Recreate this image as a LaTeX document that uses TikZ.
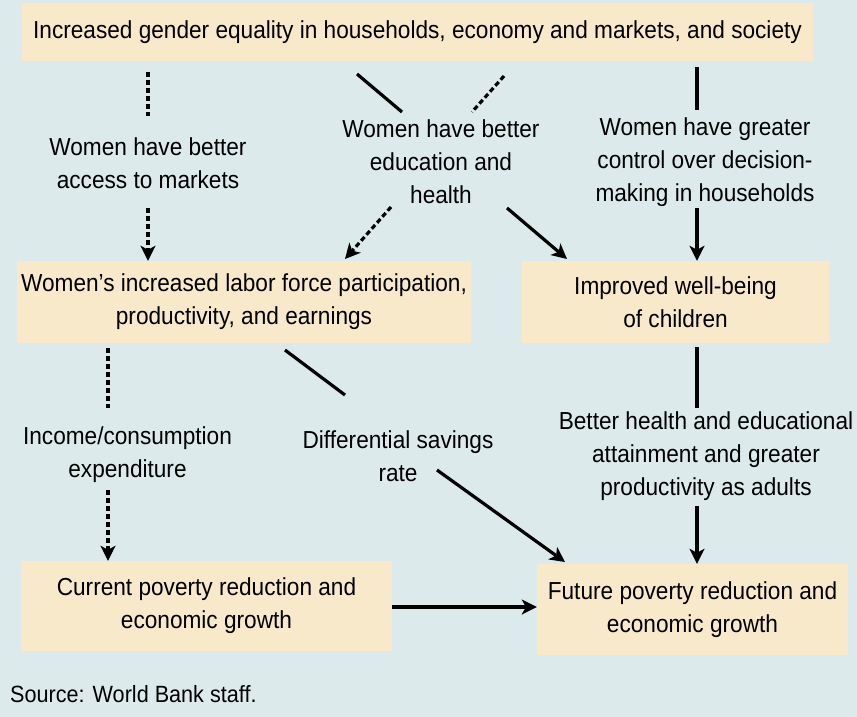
\documentclass[tikz,border=0pt]{standalone}
\usepackage{fontspec}
\setmainfont[FakeStretch=0.92]{Liberation Sans}
\usetikzlibrary{arrows,arrows.meta}
\definecolor{paneblue}{HTML}{DCEAEB}
\definecolor{boxtan}{HTML}{F8E9CA}

\begin{document}
\begin{tikzpicture}[x=1pt,y=-1pt]
  \tikzstyle{Box}=[fill=boxtan, inner sep=0pt, align=center,
                   font=\fontsize{24.6}{33}\selectfont]
  \tikzstyle{Label}=[inner sep=0pt, align=center,
                     font=\fontsize{24.6}{33}\selectfont]
  \tikzstyle{Link}=[line width=3.2pt]
  \tikzstyle{Arrow}=[Link, -{Stealth[length=15pt, width=15pt, inset=4pt]}]
  \tikzstyle{Maybe}=[dash pattern=on 5pt off 3pt]
 \fill[paneblue] (0,0) rectangle (857,717);
 \useasboundingbox (0,0) rectangle (857,717);
 \node[Box, minimum width=791, minimum height=58] (equality) at (417.5,32)
   {Increased gender equality in households, economy and markets, and society};
 \node[Box, minimum width=454, minimum height=82] (labor) at (244,302)
   {Women’s increased labor force participation,\\productivity, and earnings};
 \node[Box, minimum width=307, minimum height=82] (children) at (675.5,302)
   {Improved well-being\\of children};
 \node[Box, minimum width=371, minimum height=90] (current) at (206.5,606)
   {Current poverty reduction and\\economic growth};
 \node[Box, minimum width=311, minimum height=91] (future) at (692.5,609.5)
   {Future poverty reduction and\\economic growth};
 \node[Label] (markets) at (148,163) {Women have better\\access to markets};
 \node[Label] (education) at (441,162) {Women have better\\education and\\health};
 \node[Label] (decision) at (705,162) {Women have greater\\control over decision-\\making in households};
 \node[Label] (income) at (127.5,455) {Income/consumption\\expenditure};
 \node[Label] (savings) at (398,456) {Differential savings\\rate};
 \node[Label] (adults) at (706,456) {Better health and educational\\attainment and greater\\productivity as adults};
 \node[Label, anchor=west, font=\fontsize{23.5}{25}\selectfont] (source) at (10,694)
   {Source: World Bank staff.};
 \coordinate (m1) at (148,72);   \coordinate (m2) at (148,116);
 \coordinate (m3) at (148,208);
 \coordinate (e1) at (357,74);   \coordinate (e2) at (402,112);
 \coordinate (e3) at (504,76);   \coordinate (e4) at (472,112);
 \coordinate (e5) at (391,207);  \coordinate (e6) at (345,259);
 \coordinate (e7) at (507,208);  \coordinate (e8) at (567,259);
 \coordinate (d1) at (697,67);   \coordinate (d2) at (697,110);
 \coordinate (d3) at (697,208);
 \coordinate (i1) at (108,348);  \coordinate (i2) at (108,408);
 \coordinate (i3) at (108,490);
 \coordinate (s1) at (285,350);  \coordinate (s2) at (345,395);
 \coordinate (s3) at (437,470);  \coordinate (s4) at (565,562);
 \coordinate (a1) at (697,347);  \coordinate (a2) at (697,408);
 \coordinate (a3) at (697,506);
 \draw[Link, Maybe] (m1) -- (m2);
 \draw[Arrow, Maybe] (m3) -- (m3 |- labor.north);
 \draw[Link] (e1) -- (e2);
 \draw[Link, Maybe] (e3) -- (e4);
 \draw[Arrow, Maybe] (e5) -- (e6);
 \draw[Arrow] (e7) -- (e8);
 \draw[Link] (d1) -- (d2);
 \draw[Arrow] (d3) -- (d3 |- children.north);
 \draw[Link, Maybe] (i1) -- (i2);
 \draw[Arrow, Maybe] (i3) -- (i3 |- current.north);
 \draw[Link] (s1) -- (s2);
 \draw[Arrow] (s3) -- (s4);
 \draw[Link] (a1) -- (a2);
 \draw[Arrow] (a3) -- (a3 |- future.north);
 \draw[Arrow] (current.east |- 0,607) -- (future.west |- 0,607);
\end{tikzpicture}
\end{document}
